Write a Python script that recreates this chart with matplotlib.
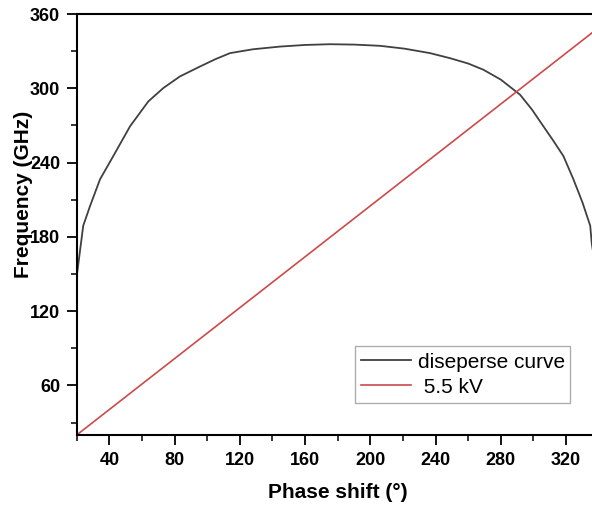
import matplotlib
matplotlib.use("Agg")
import matplotlib.pyplot as plt
from matplotlib.ticker import MultipleLocator

# Data
disp_x = [20, 24.0, 28.2, 34.3, 42.4, 52.7, 63.9, 73.1, 83.3, 95.6, 105, 114.0,
          128, 144.7, 160, 175.3, 190, 206.0, 221, 236.6, 248.9, 260, 269.3,
          280, 291.8, 299, 306.1, 312, 318.4, 324.5, 330, 334.8, 335.8, 339]
disp_y = [148, 189, 205, 226.5, 245.2, 269.3, 289.4, 300.2, 309.6, 317.6, 323.5,
          328.4, 331.5, 333.7, 335, 335.6, 335.3, 334.3, 332, 328.4, 324.3, 320,
          315, 307, 294.8, 283, 269.3, 258, 245.2, 226.5, 208, 189, 174.2, 148]
beam_x = [20, 340]
beam_y = [20, 349]

xticks = [40, 80, 120, 160, 200, 240, 280, 320]
yticks = [60, 120, 180, 240, 300, 360]

plt.rcParams['font.family'] = ['Liberation Sans', 'DejaVu Sans']

fig = plt.figure(figsize=(5.92, 5.07), dpi=100)
ax = fig.add_axes([76.7/592, 1-435/507, 522/592, 421/507])

ax.plot(disp_x, disp_y, color='#404040', lw=1.3, label='diseperse curve')
ax.plot(beam_x, beam_y, color='#cc4a4a', lw=1.2, label=' 5.5 kV')

ax.set_xlim(20, 340)
ax.set_ylim(20, 360)
ax.set_xticks(xticks)
ax.set_yticks(yticks)
ax.xaxis.set_minor_locator(MultipleLocator(20))
ax.yaxis.set_minor_locator(MultipleLocator(30))
ax.tick_params(which='major', direction='out', length=7, width=1.3,
               labelsize=13, pad=5)
ax.tick_params(which='minor', direction='out', length=4, width=1.1)
for lab in ax.get_xticklabels() + ax.get_yticklabels():
    lab.set_fontweight('bold')
for s in ax.spines.values():
    s.set_linewidth(1.5)

ax.set_xlabel('Phase shift (°)', fontsize=15, fontweight='bold')
ax.set_ylabel('Frequency (GHz)', fontsize=15, fontweight='bold')
ax.xaxis.set_label_coords(0.5, -0.114)
ax.yaxis.set_label_coords(-0.084, 0.572)

leg = ax.legend(loc='lower left', bbox_to_anchor=((355-76.7)/522, (435-403)/421,
                (570-355)/522, (403-345)/421),
                mode='expand', fontsize=15, frameon=True, fancybox=False,
                edgecolor='#999999', handlelength=2.4, handletextpad=0.3,
                borderpad=0.3, labelspacing=0.3, borderaxespad=0)
leg.get_frame().set_linewidth(1.0)

fig.savefig('out.png', dpi=100)
